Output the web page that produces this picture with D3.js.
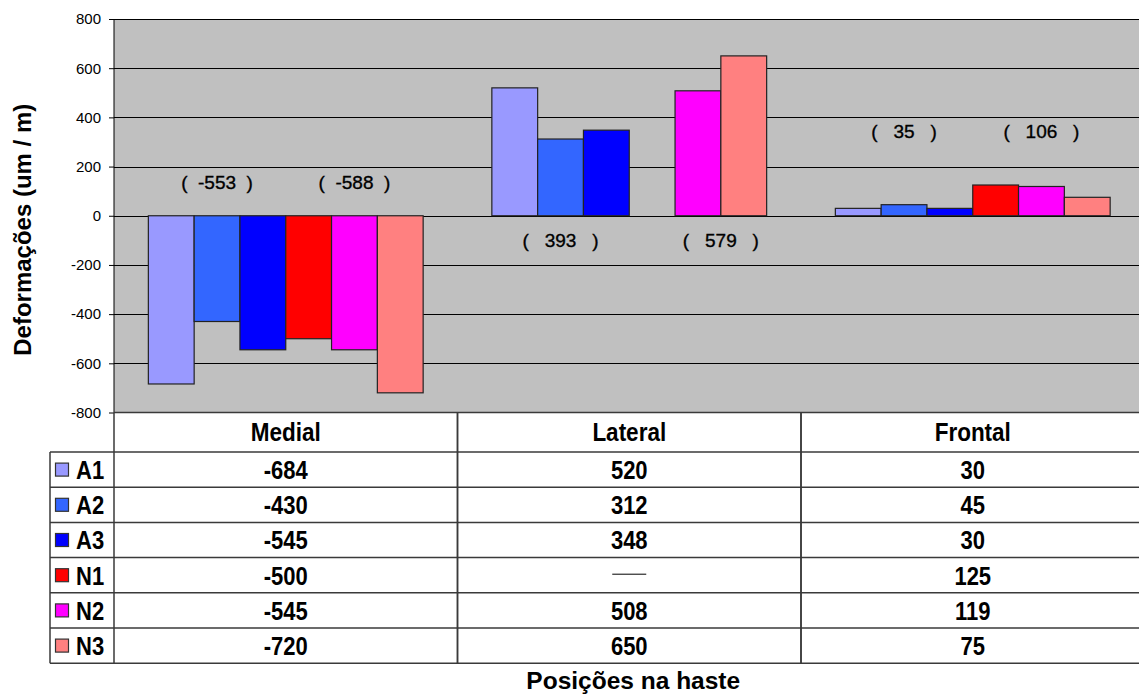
<!DOCTYPE html>
<html>
<head>
<meta charset="utf-8">
<script src="https://cdn.jsdelivr.net/npm/d3@7"></script>
<style>
  html, body { margin: 0; padding: 0; background: #fff; }
  svg { display: block; font-family: Arial, "Liberation Sans", sans-serif; }
</style>
</head>
<body>
<svg id="chart" width="1139" height="695"></svg>
<script>
// ---- data ----
const categories = ["Medial", "Lateral", "Frontal"];
const seriesNames = ["A1", "A2", "A3", "N1", "N2", "N3"];
const seriesColors = ["#9999FF", "#3366FF", "#0000FF", "#FF0000", "#FF00FF", "#FF8080"];
const A1 = [-684, 520, 30];
const A2 = [-430, 312, 45];
const A3 = [-545, 348, 30];
const N1 = [-500, null, 125];
const N2 = [-545, 508, 119];
const N3 = [-720, 650, 75];
const seriesValues = [A1, A2, A3, N1, N2, N3];
const yTicks = [-800, -600, -400, -200, 0, 200, 400, 600, 800];
// group-average annotations (category, series group, label, vertical level in data units)
const annCategory = ["Medial", "Medial", "Lateral", "Lateral", "Frontal", "Frontal"];
const annGroup = [["A1","A2","A3"], ["N1","N2","N3"], ["A1","A2","A3"], ["N2","N3"], ["A1","A2","A3"], ["N1","N2","N3"]];
const annText = ["(  -553  )", "(  -588  )", "(   393   )", "(   579   )", "(   35   )", "(   106   )"];
const annLevel = [138, 138, -98, -98, 345, 345];
const yTitle = "Deformações (um / m)";
const xTitle = "Posições na haste";

// ---- layout ----
const svg = d3.select("#chart");
const plotLeft = 114, plotRight = 1144.5, plotTop = 19, plotBottom = 412.5;
const rowH = 35.2, headerBottom = 452;
const legendLeft = 50;
const font = 'Arial, "Liberation Sans", sans-serif';
const vStretch = 1.13;

const x = d3.scaleBand().domain(categories).range([plotLeft, plotRight]).paddingInner(0).paddingOuter(0);
const bw = x.bandwidth();
const xs = d3.scaleBand().domain(seriesNames).range([bw * 0.1, bw * 0.9]).padding(0);
const y = d3.scaleLinear().domain([-800, 800]).range([plotBottom, plotTop]);

// plot background
svg.append("rect")
  .attr("x", plotLeft).attr("y", plotTop)
  .attr("width", plotRight - plotLeft).attr("height", plotBottom - plotTop)
  .attr("fill", "#C0C0C0");

// gridlines
svg.append("g").selectAll("line").data(yTicks.filter(t => t > -800)).join("line")
  .attr("x1", plotLeft).attr("x2", plotRight)
  .attr("y1", d => Math.round(y(d)) + 0.5).attr("y2", d => Math.round(y(d)) + 0.5)
  .attr("stroke", "#000").attr("stroke-width", 1);

// bars
const barData = [];
seriesNames.forEach((s, si) => {
  categories.forEach((c, ci) => {
    const v = seriesValues[si][ci];
    if (v !== null) barData.push({ s, c, v, color: seriesColors[si] });
  });
});
svg.append("g").selectAll("rect").data(barData).join("rect")
  .attr("x", d => x(d.c) + xs(d.s))
  .attr("width", xs.bandwidth())
  .attr("y", d => Math.min(y(d.v), y(0)))
  .attr("height", d => Math.abs(y(d.v) - y(0)))
  .attr("fill", d => d.color)
  .attr("stroke", "#222").attr("stroke-width", 1.2);

// y axis
const yAxis = d3.axisLeft(y).tickValues(yTicks).tickFormat(d => String(d))
  .tickSize(5).tickPadding(8).tickSizeOuter(0);
const gy = svg.append("g").attr("transform", `translate(${plotLeft},0)`).call(yAxis);
gy.select(".domain").remove();
gy.selectAll(".tick line").attr("stroke", "#000");
gy.selectAll(".tick text").attr("font-family", font).attr("font-size", 15).attr("fill", "#000");
svg.append("line").attr("x1", plotLeft).attr("x2", plotLeft).attr("y1", plotTop).attr("y2", plotBottom)
  .attr("stroke", "#000");

// annotations
svg.append("g").selectAll("text").data(annText).join("text")
  .attr("x", (d, i) => {
    const g = annGroup[i];
    const x0 = x(annCategory[i]) + xs(g[0]);
    const x1 = x(annCategory[i]) + xs(g[g.length - 1]) + xs.bandwidth();
    return (x0 + x1) / 2;
  })
  .attr("y", (d, i) => y(annLevel[i]))
  .attr("dy", "0.36em")
  .attr("text-anchor", "middle")
  .attr("xml:space", "preserve")
  .style("white-space", "pre")
  .attr("font-family", font).attr("font-size", 19).attr("fill", "#000")
  .attr("stroke", "#000").attr("stroke-width", 0.35)
  .text(d => d);

// ---- data table ----
const tbl = svg.append("g");
const lineColor = "#3a3a3a";
const nRows = seriesNames.length;
const tableBottom = headerBottom + rowH * nRows;
function stretchedText(g, cx, cy, txt, size, anchor) {
  return g.append("text")
    .attr("transform", `translate(${cx},${cy}) scale(1,${vStretch})`)
    .attr("dy", "0.36em").attr("text-anchor", anchor)
    .attr("font-family", font).attr("font-size", size).attr("font-weight", "bold").attr("fill", "#000")
    .text(txt);
}
// horizontal lines
tbl.append("line").attr("x1", plotLeft).attr("x2", plotRight).attr("y1", plotBottom).attr("y2", plotBottom)
  .attr("stroke", lineColor).attr("stroke-width", 1.5);
d3.range(nRows + 1).forEach(r => {
  const yy = headerBottom + r * rowH;
  tbl.append("line").attr("x1", legendLeft).attr("x2", plotRight).attr("y1", yy).attr("y2", yy)
    .attr("stroke", lineColor).attr("stroke-width", 1.5);
});
// vertical lines
tbl.append("line").attr("x1", legendLeft).attr("x2", legendLeft).attr("y1", headerBottom).attr("y2", tableBottom)
  .attr("stroke", lineColor).attr("stroke-width", 1.5);
categories.forEach(c => {
  [x(c), x(c) + bw].forEach(xx => {
    tbl.append("line").attr("x1", xx).attr("x2", xx).attr("y1", plotBottom).attr("y2", tableBottom)
      .attr("stroke", lineColor).attr("stroke-width", 1.5);
  });
});
// header text
categories.forEach(c => {
  stretchedText(tbl, x(c) + bw / 2, (plotBottom + headerBottom) / 2, c, 22.5, "middle");
});
// legend column + values
seriesNames.forEach((s, si) => {
  const cy = headerBottom + si * rowH + rowH / 2;
  tbl.append("rect").attr("x", 55.5).attr("y", cy - 6.5).attr("width", 13).attr("height", 13)
    .attr("fill", seriesColors[si]).attr("stroke", "#333").attr("stroke-width", 1.2);
  stretchedText(tbl, 76, cy + 0.5, s, 22, "start");
  categories.forEach((c, ci) => {
    const v = seriesValues[si][ci];
    const cx = x(c) + bw / 2;
    if (v === null) {
      tbl.append("line").attr("x1", cx - 17).attr("x2", cx + 17).attr("y1", cy - 1).attr("y2", cy - 1)
        .attr("stroke", "#000").attr("stroke-width", 1);
    } else {
      stretchedText(tbl, cx, cy + 0.5, String(v), 22, "middle");
    }
  });
});

// axis titles
svg.append("text")
  .attr("transform", `translate(31, ${(plotTop + plotBottom) / 2 + 14}) rotate(-90)`)
  .attr("text-anchor", "middle")
  .attr("font-family", font).attr("font-size", 24).attr("font-weight", "bold").attr("fill", "#000")
  .text(yTitle);
svg.append("text")
  .attr("x", x("Lateral") + bw / 2 + 4).attr("y", 689)
  .attr("text-anchor", "middle")
  .attr("font-family", font).attr("font-size", 24.5).attr("font-weight", "bold").attr("fill", "#000")
  .text(xTitle);
</script>
</body>
</html>
